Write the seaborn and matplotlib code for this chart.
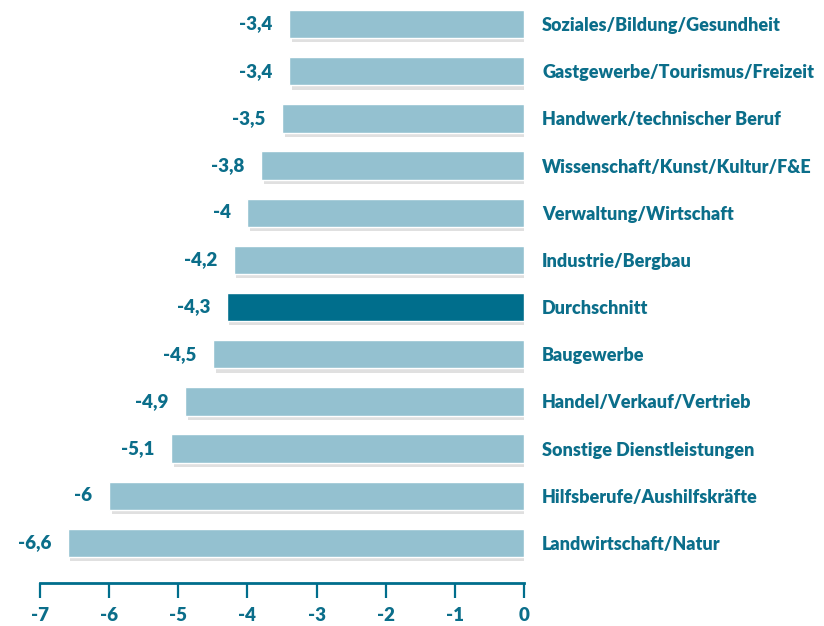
import matplotlib
matplotlib.use("Agg")
import matplotlib.pyplot as plt
import matplotlib.patheffects as pe
import seaborn as sns
import pandas as pd

categories = [
    "Soziales/Bildung/Gesundheit",
    "Gastgewerbe/Tourismus/Freizeit",
    "Handwerk/technischer Beruf",
    "Wissenschaft/Kunst/Kultur/F&E",
    "Verwaltung/Wirtschaft",
    "Industrie/Bergbau",
    "Durchschnitt",
    "Baugewerbe",
    "Handel/Verkauf/Vertrieb",
    "Sonstige Dienstleistungen",
    "Hilfsberufe/Aushilfskräfte",
    "Landwirtschaft/Natur",
]
values = [-3.4, -3.4, -3.5, -3.8, -4.0, -4.2, -4.3, -4.5, -4.9, -5.1, -6.0, -6.6]
value_labels = ["-3,4", "-3,4", "-3,5", "-3,8", "-4", "-4,2", "-4,3", "-4,5", "-4,9", "-5,1", "-6", "-6,6"]
x_ticks = [-7, -6, -5, -4, -3, -2, -1, 0]

LIGHT = "#94c1d0"
DARK = "#006e8c"
TEXT = "#0b6e8a"
FS = 13

sns.set_theme(style="white")
plt.rcParams["font.family"] = ["Lato", "DejaVu Sans"]

df = pd.DataFrame({"cat": categories, "val": values})
palette = {c: (DARK if c == "Durchschnitt" else LIGHT) for c in categories}

fig = plt.figure(figsize=(8.24, 6.26), dpi=100)
ax = fig.add_axes([40 / 824, 43 / 626, 484 / 824, 583 / 626])
sns.barplot(data=df, x="val", y="cat", hue="cat", palette=palette, legend=False,
            orient="h", width=0.6, saturation=1, ax=ax)

for p in ax.patches:
    p.set_path_effects([pe.SimplePatchShadow(offset=(2, -3), shadow_rgbFace="#999999", alpha=0.3),
                        pe.Normal()])

for i, (v, lab) in enumerate(zip(values, value_labels)):
    ax.annotate(lab, xy=(v, i), xytext=(-12, 0), textcoords="offset points",
                ha="right", va="center", fontsize=13.5, fontweight="heavy", color=TEXT)

ax.set_xlim(-7, 0)
ax.set_ylim(11.85, -0.51)
ax.set_xticks(x_ticks)
ax.set_xticklabels([str(t) for t in x_ticks])
ax.yaxis.tick_right()
ax.tick_params(axis="y", length=0, pad=13, labelsize=FS, labelcolor=TEXT)
for t in ax.get_yticklabels():
    t.set_fontweight("heavy")
ax.tick_params(axis="x", direction="out", length=11, width=1.6, color=DARK,
               labelsize=13.5, labelcolor=TEXT, pad=6, bottom=True)
for t in ax.get_xticklabels():
    t.set_fontweight("heavy")
ax.set_xlabel("")
ax.set_ylabel("")
for s in ["top", "left", "right"]:
    ax.spines[s].set_visible(False)
ax.spines["bottom"].set_color(DARK)
ax.spines["bottom"].set_linewidth(2)
ax.patch.set_alpha(0)

fig.savefig("out.png", dpi=100)
